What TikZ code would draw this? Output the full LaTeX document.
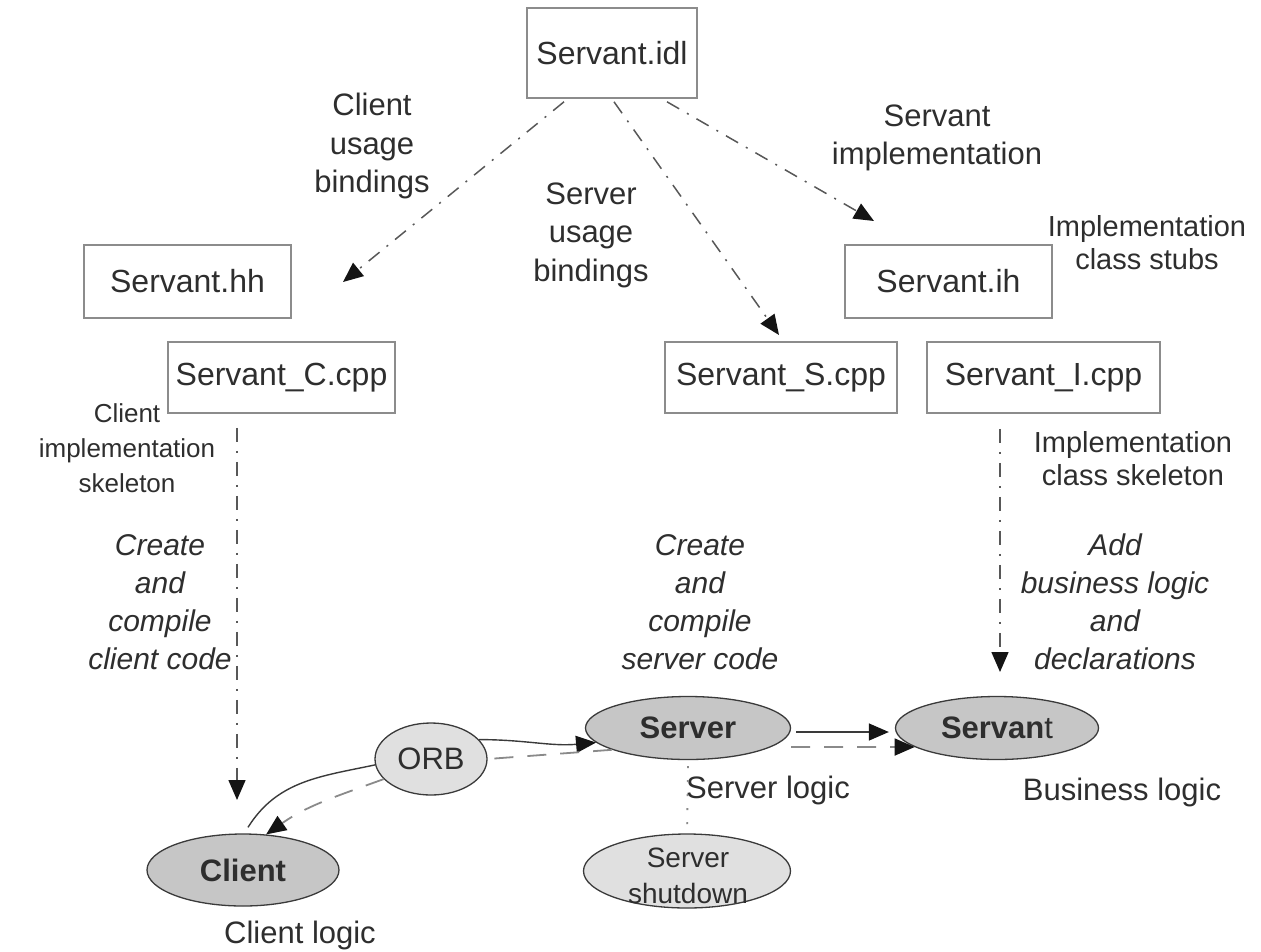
\documentclass[tikz,border=0pt]{standalone}
\usepackage{fontspec}
\setmainfont{Liberation Sans}
\usetikzlibrary{arrows.meta,shapes.geometric}

\definecolor{ink}{HTML}{2E2E2E}
\definecolor{boxline}{HTML}{8C8C8C}
\definecolor{wire}{HTML}{3A3A3A}
\definecolor{dimwire}{HTML}{8A8A8A}
\definecolor{darkfill}{HTML}{C6C6C6}
\definecolor{lightfill}{HTML}{E0E0E0}
\definecolor{headink}{HTML}{141414}

\tikzset{
  lbl/.style={text=ink, align=center, inner sep=0pt,
    font=\fontsize{31}{38.5}\selectfont},
  smalllbl/.style={lbl, font=\fontsize{29}{33}\selectfont},
  tinylbl/.style={lbl, font=\fontsize{26}{35}\selectfont},
  itlbl/.style={lbl, font=\fontsize{30}{38}\selectfont\itshape},
  filebox/.style={draw=boxline, line width=1.6pt, inner sep=0pt, text=ink,
    font=\fontsize{32}{38}\selectfont},
  bubble/.style={ellipse, draw=wire, line width=1.3pt, inner sep=0pt},
  darkbubble/.style={bubble, fill=darkfill},
  lightbubble/.style={bubble, fill=lightfill},
  tip/.style={-{Triangle[length=20pt,width=17pt,color=headink]}},
  dashdot/.style={draw=wire!85, line width=1.5pt,
    dash pattern=on 14pt off 9pt on 2pt off 9pt},
  req/.style={draw=wire, line width=1.4pt},
  reply/.style={draw=dimwire, line width=1.8pt, dash pattern=on 19pt off 14pt},
}

\begin{document}
\begin{tikzpicture}[x=1pt,y=-1pt]
\useasboundingbox (0,0) rectangle (1261,951);

% generated and edited source files
\node[filebox, minimum width=170pt, minimum height=90pt] (idl) at (612,53) {Servant.idl};
\node[filebox, minimum width=207pt, minimum height=73pt] (hh) at (187.5,281.5) {Servant.hh};
\node[filebox, minimum width=227pt, minimum height=71pt] (ccpp) at (281.5,377.5) {Servant\_C.cpp};
\node[filebox, minimum width=207pt, minimum height=73pt] (ih) at (948.5,281.5) {Servant.ih};
\node[filebox, minimum width=232pt, minimum height=71pt] (scpp) at (781,377.5) {Servant\_S.cpp};
\node[filebox, minimum width=233pt, minimum height=71pt] (icpp) at (1043.5,377.5) {Servant\_I.cpp};

% runtime components
\node[darkbubble, minimum width=205pt, minimum height=63pt] (server) at (688,728) {};
\node[lbl, font=\fontsize{31}{38}\selectfont\bfseries] (server-t) at (server) {Server};
\node[darkbubble, minimum width=203pt, minimum height=63pt] (servant) at (997,728) {};
\node[lbl, font=\fontsize{31}{38}\selectfont] (servant-t) at (servant) {\textbf{Servan}t};
\node[lightbubble, minimum width=112pt, minimum height=72pt] (orb) at (431,759) {};
\node[lbl] (orb-t) at (orb) {ORB};
\node[darkbubble, minimum width=192pt, minimum height=72pt] (client) at (243,870) {};
\node[lbl, font=\fontsize{31}{38}\selectfont\bfseries] (client-t) at (client) {Client};
\node[lightbubble, minimum width=207pt, minimum height=74pt] (shutdown) at (687,871) {};
\node[lbl, font=\fontsize{28}{36}\selectfont] (shutdown-t) at (688,876) {Server\\shutdown};

% labels
\node[lbl] (l-cub) at (372,146) {Client\\usage\\bindings};
\node[lbl] (l-sub) at (591,235) {Server\\usage\\bindings};
\node[lbl] (l-simpl) at (937,138) {Servant\\implementation};
\node[smalllbl] (l-stubs) at (1147,243) {Implementation\\class stubs};
\node[tinylbl] (l-cskel) at (127,448) {Client\\implementation\\skeleton};
\node[smalllbl] (l-iskel) at (1133,459) {Implementation\\class skeleton};
\node[itlbl] (l-cc) at (160,602) {Create\\and\\compile\\client code};
\node[itlbl] (l-sc) at (700,602) {Create\\and\\compile\\server code};
\node[itlbl] (l-bl) at (1115,602) {Add\\business logic\\and\\declarations};
\node[lbl] (l-slog) at (768,790) {Server logic};
\node[lbl] (l-blog) at (1122,792) {Business logic};
\node[lbl] (l-clog) at (300,935) {Client logic};

% code generation from the IDL file
\coordinate (cub-end) at (343,282);
\coordinate (sub-end) at (779,335);
\coordinate (simpl-end) at (874,221);
\draw[dashdot, tip] ([xshift=-48pt,yshift=-3pt]idl.south) -- (cub-end);
\draw[dashdot, tip] ([xshift=2pt,yshift=-3pt]idl.south) -- (sub-end);
\draw[dashdot, tip] ([xshift=55pt,yshift=-3pt]idl.south) -- (simpl-end);

% skeletons to hand-written code
\coordinate (cc-end) at (237,800);
\coordinate (bl-end) at (1000,672);
\draw[dashdot, tip] ([xshift=-44.5pt,yshift=-14pt]ccpp.south) -- (cc-end);
\draw[dashdot, tip] ([xshift=-43.5pt,yshift=-15pt]icpp.south) -- (bl-end);

% request path: client -> ORB -> server -> servant
\draw[req] ([xshift=5pt,yshift=6pt]client.north) to[out=58,in=192] (orb.186);
\draw[req, tip] (orb.22) to[out=0,in=185] (server.189);
\draw[req, tip, shorten <=5pt, shorten >=6pt] ([yshift=-4pt]server.east) -- ([yshift=-4pt]servant.west);

% reply path: servant/server -> ORB -> client
\draw[reply, tip] ([yshift=-19pt]server.east) -- (servant.193);
\draw[reply, shorten >=-6pt] (server.196) -- (orb.east);
\draw[reply, tip] (orb.203) to[out=200,in=35] (client.57);

% shutdown hook
\draw[draw=dimwire, line width=1.8pt, dash pattern=on 2pt off 12pt]
  ([yshift=-6pt]server.south) -- (shutdown.north);
\end{tikzpicture}
\end{document}
